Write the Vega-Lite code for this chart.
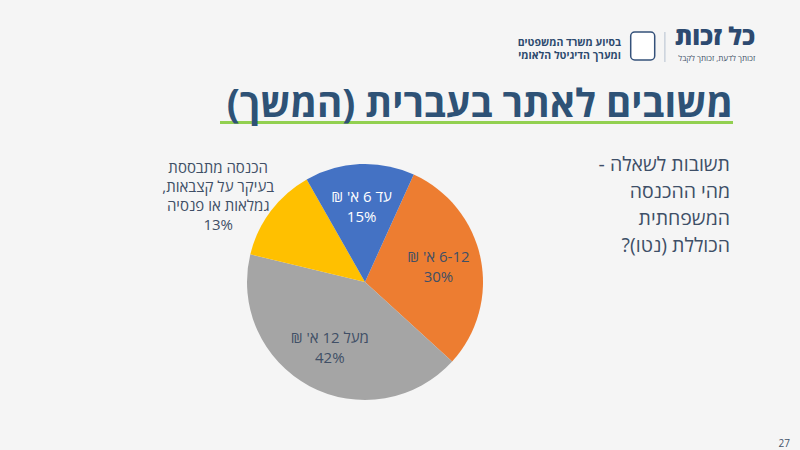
{
  "$schema": "https://vega.github.io/schema/vega-lite/v6.json",
  "background": "#F5F5F5",
  "padding": {"top": 25, "left": 0, "right": 10, "bottom": 10},
  "config": {
    "view": {"stroke": null},
    "font": "Open Sans, DejaVu Sans",
    "title": {"font": "Open Sans, DejaVu Sans", "frame": "group"}
  },
  "spacing": 27,
  "vconcat": [
    {
      "spacing": 23,
      "vconcat": [
        {
          "spacing": 8.7,
          "hconcat": [
            {
              "width": 621,
              "height": 30,
              "data": {"values": [{}]},
              "mark": {"type": "text"},
              "encoding": {"text": {"value": ""}},
              "title": {
                "text": "\u200fבסיוע משרד המשפטים\u200f",
                "subtitle": "\u200fומערך הדיגיטל הלאומי\u200f",
                "orient": "bottom",
                "anchor": "end",
                "frame": "group",
                "fontSize": 10.5,
                "fontWeight": "bold",
                "color": "#2D4A6E",
                "subtitleFontSize": 10.5,
                "subtitleFontWeight": "bold",
                "subtitleColor": "#2D4A6E",
                "subtitlePadding": 3,
                "offset": -24.5
              }
            },
            {
              "width": 24,
              "height": 28,
              "view": {"fill": "#FFFFFF", "stroke": "#34517A", "strokeWidth": 1.5, "cornerRadius": 4},
              "data": {"values": [{}]},
              "mark": {"type": "text"},
              "encoding": {"text": {"value": ""}}
            },
            {
              "width": 1,
              "height": 30,
              "view": {"fill": "#B4C0CF", "stroke": null},
              "data": {"values": [{}]},
              "mark": {"type": "text"},
              "encoding": {"text": {"value": ""}}
            },
            {
              "width": 80,
              "height": 30,
              "data": {"values": [{}]},
              "mark": {"type": "text"},
              "encoding": {"text": {"value": ""}},
              "title": {
                "text": "\u200fכל זכות\u200f",
                "subtitle": "\u200fזכותך לדעת, זכותך לקבל\u200f",
                "orient": "bottom",
                "anchor": "end",
                "frame": "group",
                "fontSize": 24.5,
                "fontWeight": 900,
                "color": "#2D4A70",
                "subtitleFontSize": 8,
                "subtitleColor": "#44546A",
                "subtitlePadding": 4,
                "offset": -36
              }
            }
          ]
        },
        {
          "spacing": 20,
          "hconcat": [
            {
              "width": 200,
              "height": 3,
              "data": {"values": [{}]},
              "mark": {"type": "text"},
              "encoding": {"text": {"value": ""}}
            },
            {
              "width": 513,
              "height": 3,
              "view": {"fill": "#92D050", "stroke": null},
              "data": {"values": [{}]},
              "mark": {"type": "text"},
              "encoding": {"text": {"value": ""}},
              "title": {
                "text": "\u200fמשובים לאתר בעברית (המשך)\u200f",
                "anchor": "end",
                "frame": "group",
                "fontSize": 38.5,
                "fontWeight": "bold",
                "color": "#2E5276",
                "offset": -9
              }
            }
          ]
        }
      ]
    },
    {
      "width": 730,
      "height": 236,
      "title": {
        "text": ["\u200fתשובות לשאלה -\u200f", "\u200fמהי ההכנסה\u200f", "\u200fהמשפחתית\u200f", "\u200fהכוללת (נטו)?\u200f"],
        "anchor": "end",
        "frame": "group",
        "fontSize": 19.5,
        "fontWeight": "normal",
        "color": "#3E4F67",
        "lineHeight": 27,
        "offset": -95.5
      },
      "data": {
        "values": [
          {"category": "6-12", "value": 30, "rank": 1, "label": "\u200f6-12 א' ₪\u200f\n30%"},
          {"category": "מעל 12", "value": 42, "rank": 2, "label": "\u200fמעל 12 א' ₪\u200f\n42%"},
          {"category": "קצבאות", "value": 13, "rank": 3, "label": "\u200fהכנסה מתבססת\u200f\n\u200fבעיקר על קצבאות,\u200f\n\u200fגמלאות או פנסיה\u200f\n13%"},
          {"category": "עד 6", "value": 15, "rank": 4, "label": "\u200fעד 6 א' ₪\u200f\n15%"}
        ]
      },
      "layer": [
        {
          "mark": {"type": "arc", "outerRadius": 118},
          "encoding": {
            "theta": {"field": "value", "type": "quantitative", "stack": true, "scale": {"range": [0.426, 6.709]}},
            "order": {"field": "rank", "type": "quantitative"},
            "color": {
              "field": "category",
              "type": "nominal",
              "scale": {"domain": ["6-12", "מעל 12", "קצבאות", "עד 6"], "range": ["#ED7D31", "#A5A5A5", "#FFC000", "#4472C4"]},
              "legend": null
            }
          }
        },
        {
          "mark": {"type": "text", "radius": 75, "dy": -10, "lineBreak": "\n", "fontSize": 15, "lineHeight": 20, "align": "center", "baseline": "middle"},
          "encoding": {
            "theta": {"field": "value", "type": "quantitative", "stack": true, "scale": {"range": [0.426, 6.709]}},
            "order": {"field": "rank", "type": "quantitative"},
            "text": {"condition": {"test": "datum.rank != 3", "field": "label", "type": "nominal"}, "value": ""},
            "color": {"condition": {"test": "datum.rank == 4", "value": "#FFFFFF"}, "value": "#404F66"}
          }
        },
        {
          "transform": [
            {"stack": "value", "groupby": [], "sort": [{"field": "rank", "order": "ascending"}], "as": ["s0", "s1"]},
            {"filter": "datum.rank == 3"}
          ],
          "mark": {"type": "text", "radius": 185, "dx": 33, "dy": -70, "lineBreak": "\n", "fontSize": 15, "lineHeight": 18.7, "align": "center", "baseline": "middle", "color": "#404F66"},
          "encoding": {
            "theta": {"field": "s0", "type": "quantitative", "stack": null, "scale": {"range": [0.426, 6.709]}},
            "text": {"field": "label", "type": "nominal"}
          }
        }
      ]
    },
    {
      "width": 790,
      "height": 7,
      "data": {"values": [{}]},
      "mark": {"type": "text"},
      "encoding": {"text": {"value": ""}},
      "title": {"text": "27", "anchor": "end", "frame": "group", "orient": "bottom", "fontSize": 10, "fontWeight": "normal", "color": "#44546A", "offset": 0}
    }
  ]
}
